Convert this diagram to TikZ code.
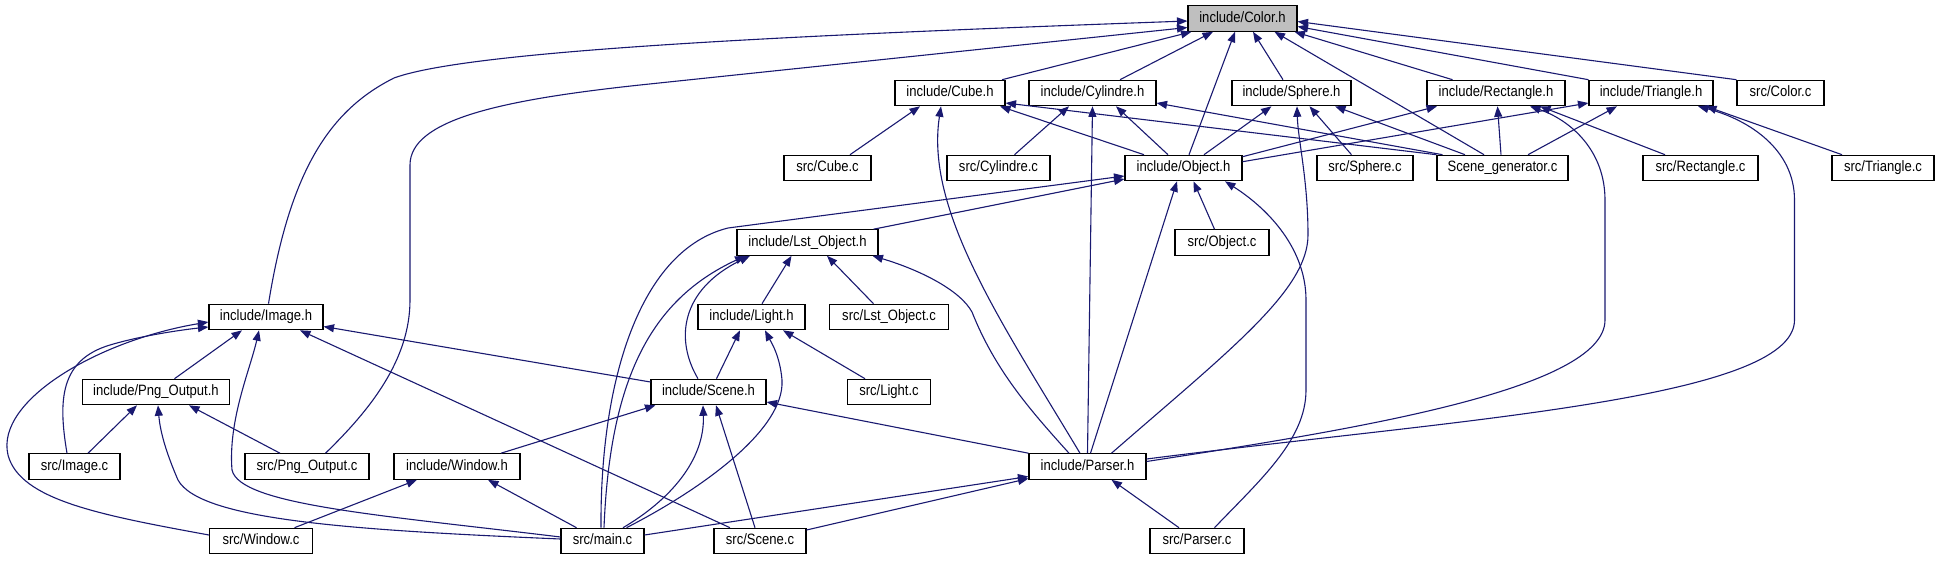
\documentclass[tikz,border=0pt]{standalone}
\usepackage{fontspec}
\setmainfont{Liberation Sans}
\newfontfamily\boxfont[FakeStretch=0.87]{Liberation Sans}
\usetikzlibrary{arrows.meta}
\definecolor{edgec}{RGB}{25,25,112}
\definecolor{rootfill}{RGB}{191,191,191}
\begin{document}
\begin{tikzpicture}[x=1pt,y=-1pt,
  box/.style={draw=black, line width=1.1pt, fill=white, minimum height=25.5pt, inner sep=0pt,
    text height=11pt, text depth=3.5pt, font=\boxfont\fontsize{15pt}{17pt}\selectfont},
  rootbox/.style={box, fill=rootfill},
  inc/.style={draw=edgec, line width=1.1pt, -{Triangle[length=10.5pt,width=8pt]}, fill=none}]
\useasboundingbox (0,0) rectangle (1939,560);
% row 1
\node[rootbox, minimum width=109pt] (colorh) at (1242.5,18.5) {include/Color.h};
% row 2
\node[box, minimum width=110pt] (cubeh) at (950,93) {include/Cube.h};
\node[box, minimum width=127pt] (cylh) at (1092.5,93) {include/Cylindre.h};
\node[box, minimum width=119pt] (sphh) at (1291.5,93) {include/Sphere.h};
\node[box, minimum width=138pt] (recth) at (1496,93) {include/Rectangle.h};
\node[box, minimum width=124pt] (trih) at (1651,93) {include/Triangle.h};
\node[box, minimum width=87pt] (colorc) at (1780.5,93) {src/Color.c};
% row 3
\node[box, minimum width=87pt] (cubec) at (827.5,168) {src/Cube.c};
\node[box, minimum width=103pt] (cylc) at (998.5,168) {src/Cylindre.c};
\node[box, minimum width=117pt] (objh) at (1183.5,168) {include/Object.h};
\node[box, minimum width=96pt] (sphc) at (1365,168) {src/Sphere.c};
\node[box, minimum width=131pt] (sceneg) at (1502.5,168) {Scene\_generator.c};
\node[box, minimum width=115pt] (rectc) at (1700.5,168) {src/Rectangle.c};
\node[box, minimum width=102pt] (tric) at (1883,168) {src/Triangle.c};
% row 4
\node[box, minimum width=141pt] (lsth) at (807.5,242.5) {include/Lst\_Object.h};
\node[box, minimum width=94pt] (objc) at (1222,242.5) {src/Object.c};
% row 5
\node[box, minimum width=114pt] (imgh) at (266,317) {include/Image.h};
\node[box, minimum width=107pt] (lighth) at (751.5,317) {include/Light.h};
\node[box, minimum width=119.5pt] (lstc) at (889,317) {src/Lst\_Object.c};
% row 6
\node[box, minimum width=146.5pt] (pngh) at (156,392) {include/Png\_Output.h};
\node[box, minimum width=115pt] (sceneh) at (708.5,392) {include/Scene.h};
\node[box, minimum width=83pt] (lightc) at (889,392) {src/Light.c};
% row 7
\node[box, minimum width=91pt] (imgc) at (74.5,466.5) {src/Image.c};
\node[box, minimum width=124pt] (pngc) at (307,466.5) {src/Png\_Output.c};
\node[box, minimum width=126pt] (winh) at (457,466.5) {include/Window.h};
\node[box, minimum width=117pt] (parserh) at (1087.5,466.5) {include/Parser.h};
% row 8
\node[box, minimum width=103pt] (winc) at (261,541) {src/Window.c};
\node[box, minimum width=83pt] (mainc) at (602.5,541) {src/main.c};
\node[box, minimum width=92pt] (scenec) at (760,541) {src/Scene.c};
\node[box, minimum width=94pt] (parserc) at (1197,541) {src/Parser.c};

% ---- into Color.h
\draw[inc] ([xshift=2.5pt]imgh.north) .. controls (290,170) and (330,110) .. (394,78) .. controls (470,50) and (800,35) .. ([yshift=-2.5pt]colorh.west);
\draw[inc] ([xshift=18.5pt]pngc.north) .. controls (370,410) and (410,360) .. (410,300) -- (410,165) .. controls (410,120) and (500,100) .. (640,85) -- ([yshift=-9pt]colorh.west);
\draw[inc] ([xshift=52pt]cubeh.north) -- ([xshift=4pt]colorh.south west);
\draw[inc] ([xshift=27.5pt]cylh.north) -- ([xshift=-29.5pt]colorh.south);
\draw[inc] ([xshift=5.5pt]objh.north) -- ([xshift=-7.5pt]colorh.south);
\draw[inc] ([xshift=-8.5pt]sphh.north) -- ([xshift=10.5pt]colorh.south);
\draw[inc] ([xshift=-18.5pt]sceneg.north) -- ([xshift=32pt]colorh.south);
\draw[inc] ([xshift=-43.5pt]recth.north) -- ([xshift=-3pt]colorh.south east);
\draw[inc] (trih.north west) -- ([yshift=-8pt]colorh.east);
\draw[inc] (colorc.north west) -- ([yshift=-3pt]colorh.east);

% ---- into Cube.h
\draw[inc] ([xshift=22.5pt]cubec.north) -- ([xshift=-30pt]cubeh.south);
\draw[inc] ([xshift=-7.5pt]parserh.north) .. controls (1000,320) and (925,210) .. ([xshift=-9pt]cubeh.south);
\draw[inc] ([xshift=-39.5pt]objh.north) -- ([xshift=50pt]cubeh.south);
\draw[inc] (sceneg.north west) -- ([yshift=-10pt]cubeh.east);

% ---- into Cylindre.h
\draw[inc] ([xshift=6pt]sceneg.north west) -- ([yshift=-10pt]cylh.east);
\draw[inc] ([xshift=16pt]cylc.north) -- ([xshift=-23.5pt]cylh.south);
\draw[inc] ([xshift=-15.5pt]objh.north) -- ([xshift=23.5pt]cylh.south);
\draw[inc] (parserh.north) -- (cylh.south);

% ---- into Sphere.h
\draw[inc] ([xshift=20.5pt]objh.north) -- ([xshift=-20pt]sphh.south);
\draw[inc] ([xshift=-13.5pt]sphc.north) -- ([xshift=18pt]sphh.south);
\draw[inc] ([xshift=-37.5pt]sceneg.north) -- ([xshift=43.5pt]sphh.south);
\draw[inc] ([xshift=24pt]parserh.north) .. controls (1230,350) and (1308,290) .. (1308,235) .. controls (1308,180) and (1298,140) .. ([xshift=5.5pt]sphh.south);

% ---- into Rectangle.h
\draw[inc] ([yshift=-2pt]objh.north east) -- ([xshift=-59pt]recth.south);
\draw[inc] ([xshift=-1.5pt]sceneg.north) -- ([xshift=1.5pt]recth.south);
\draw[inc] ([xshift=-35.5pt]rectc.north) -- ([xshift=44pt]recth.south);
\draw[inc] ([yshift=5pt]parserh.east) .. controls (1350,430) and (1605,390) .. (1605,320) -- (1605,200) .. controls (1605,150) and (1570,120) .. ([xshift=34pt]recth.south);

% ---- into Triangle.h
\draw[inc] ([yshift=7.5pt]parserh.east) .. controls (1450,420) and (1794.5,400) .. (1794.5,320) -- (1794.5,200) .. controls (1794.5,150) and (1750,120) .. ([xshift=47pt]trih.south);
\draw[inc] ([yshift=-7pt]objh.north east) -- ([yshift=-10pt]trih.west);
\draw[inc] ([xshift=25.5pt]sceneg.north) -- ([xshift=-34pt]trih.south);
\draw[inc] ([xshift=-41pt]tric.north) -- ([xshift=55pt]trih.south);

% ---- into Object.h
\draw[inc] ([xshift=66pt]lsth.north) -- ([yshift=-11pt]objh.west);
\draw[inc] ([xshift=-1.5pt]mainc.north) .. controls (600,380) and (640,250) .. (728,228) -- ([yshift=-8pt]objh.west);
\draw[inc] ([xshift=-7.5pt]objc.north) -- ([xshift=10pt]objh.south);
\draw[inc] ([xshift=3pt]parserh.north) -- ([xshift=-6.5pt]objh.south);
\draw[inc] ([xshift=17.5pt]parserc.north) .. controls (1260,480) and (1306,440) .. (1306,390) -- (1306,300) .. controls (1306,250) and (1270,210) .. ([xshift=41.5pt]objh.south);

% ---- into Lst_Object.h
\draw[inc] ([xshift=10.5pt]lighth.north) -- ([xshift=-16pt]lsth.south);
\draw[inc] ([xshift=-15.5pt]lstc.north) -- ([xshift=19.5pt]lsth.south);
\draw[inc] ([xshift=-18.5pt]parserh.north) .. controls (1030,410) and (995,370) .. (972,312) .. controls (960,290) and (920,270) .. ([xshift=65pt]lsth.south);
\draw[inc] ([xshift=-10.5pt]sceneh.north) .. controls (675,340) and (680,290) .. ([xshift=-57.5pt]lsth.south);
\draw[inc] ([xshift=1.5pt]mainc.north) .. controls (610,380) and (650,300) .. ([xshift=-62pt]lsth.south);

% ---- into Light.h
\draw[inc] ([xshift=8pt]sceneh.north) -- ([xshift=-11.5pt]lighth.south);
\draw[inc] ([xshift=-24pt]lightc.north) -- ([xshift=31.5pt]lighth.south);
\draw[inc] ([xshift=24pt]mainc.north) .. controls (700,490) and (785,430) .. (782,380) .. controls (780,355) and (770,340) .. ([xshift=13.5pt]lighth.south);

% ---- into Scene.h
\draw[inc] ([xshift=44pt]winh.north) -- ([xshift=5pt]sceneh.south west);
\draw[inc] ([xshift=20.5pt]mainc.north) .. controls (670,500) and (705,460) .. ([xshift=-5.5pt]sceneh.south);
\draw[inc] ([xshift=-5pt]scenec.north) -- ([xshift=7.5pt]sceneh.south);
\draw[inc] (parserh.north west) -- ([yshift=-10pt]sceneh.east);

% ---- into Image.h
\draw[inc] ([yshift=10pt]sceneh.west) -- ([yshift=-9.5pt]imgh.east);
\draw[inc] ([xshift=18.5pt]pngh.north) -- ([xshift=-24pt]imgh.south);
\draw[inc] ([xshift=-7.5pt]imgc.north) .. controls (58,400) and (60,360) .. (110,345) .. controls (140,336) and (180,330) .. ([yshift=-10pt]imgh.west);
\draw[inc] ([yshift=6pt]winc.west) .. controls (100,515) and (20,500) .. (8,455) .. controls (-5,400) and (100,340) .. ([yshift=-5pt]imgh.west);
\draw[inc] ([yshift=4pt]mainc.west) .. controls (380,515) and (240,505) .. (232,470) .. controls (228,420) and (250,370) .. ([xshift=-7pt]imgh.south);
\draw[inc] ([xshift=-30pt]scenec.north) -- ([xshift=34pt]imgh.south);

% ---- into Png_Output.h
\draw[inc] ([yshift=2pt]mainc.west) .. controls (350,530) and (200,520) .. (178,480) .. controls (165,450) and (160,430) .. ([xshift=2pt]pngh.south);
\draw[inc] ([xshift=13.5pt]imgc.north) -- ([xshift=-19pt]pngh.south);
\draw[inc] ([xshift=-27pt]pngc.north) -- ([xshift=33pt]pngh.south);

% ---- into Window.h
\draw[inc] ([xshift=33.5pt]winc.north) -- ([xshift=-40pt]winh.south);
\draw[inc] ([xshift=-26pt]mainc.north) -- ([xshift=31pt]winh.south);

% ---- into Parser.h
\draw[inc] ([yshift=6pt]mainc.east) -- ([yshift=-10pt]parserh.west);
\draw[inc] ([yshift=11pt]scenec.east) -- ([yshift=-12pt]parserh.west);
\draw[inc] ([xshift=-18pt]parserc.north) -- ([xshift=24pt]parserh.south);
\end{tikzpicture}
\end{document}
